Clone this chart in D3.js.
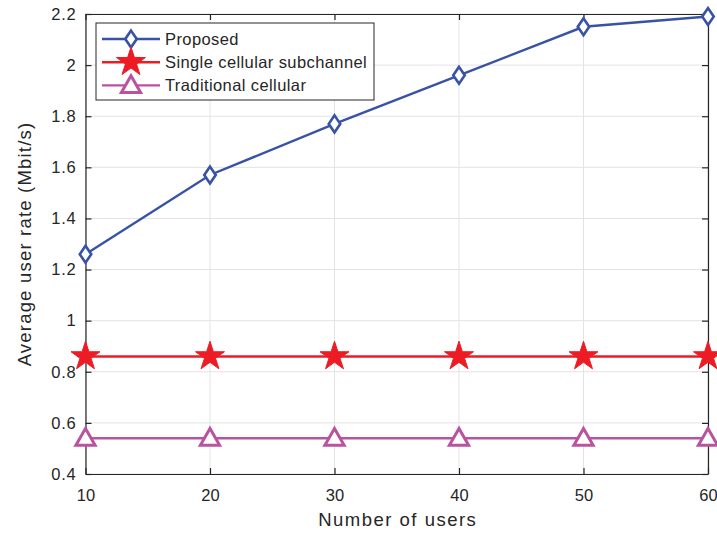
<!DOCTYPE html>
<html>
<head>
<meta charset="utf-8">
<script src="https://cdn.jsdelivr.net/npm/d3@7"></script>
<style>
  body { margin: 0; background: #fff; }
  text { font-family: "Liberation Sans", Arial, sans-serif; fill: #262626; }
</style>
</head>
<body>
<div id="chart"></div>
<script>
// chart data
const users = [10, 20, 30, 40, 50, 60]
const proposed = [1.26, 1.57, 1.77, 1.96, 2.15, 2.19]
const singleSub = [0.86, 0.86, 0.86, 0.86, 0.86, 0.86]
const traditional = [0.54, 0.54, 0.54, 0.54, 0.54, 0.54]
const xTicks = [10, 20, 30, 40, 50, 60]
const yTicks = [0.4, 0.6, 0.8, 1, 1.2, 1.4, 1.6, 1.8, 2, 2.2]
const seriesNames = ['Proposed', 'Single cellular subchannel', 'Traditional cellular']

const width = 717, height = 535
const plotLeft = 85.5, plotRight = 708, plotTop = 14, plotBottom = 474

const svg = d3.select('#chart').append('svg').attr('width', width).attr('height', height)

const x = d3.scaleLinear().domain([10, 60]).range([plotLeft, plotRight])
const y = d3.scaleLinear().domain([0.4, 2.2]).range([plotBottom, plotTop])

// grid
svg.append('g').selectAll('line').data(xTicks).join('line')
    .attr('x1', d => x(d)).attr('x2', d => x(d)).attr('y1', plotTop).attr('y2', plotBottom)
    .style('stroke', '#e3e3e3').style('stroke-width', 1)
svg.append('g').selectAll('line').data(yTicks).join('line')
    .attr('x1', plotLeft).attr('x2', plotRight).attr('y1', d => y(d)).attr('y2', d => y(d))
    .style('stroke', '#e3e3e3').style('stroke-width', 1)

// axes, matlab style inward ticks on all sides
const tickLen = 6
svg.append('g').attr('transform', 'translate(0,' + plotBottom + ')')
    .call(d3.axisBottom(x).tickValues(xTicks).tickSizeInner(-tickLen).tickSizeOuter(0).tickPadding(15))
svg.append('g').attr('transform', 'translate(0,' + plotTop + ')')
    .call(d3.axisTop(x).tickValues(xTicks).tickSizeInner(-tickLen).tickSizeOuter(0).tickFormat(''))
const yAxisG = svg.append('g').attr('transform', 'translate(' + plotLeft + ',0)')
    .call(d3.axisLeft(y).tickValues(yTicks).tickSizeInner(-tickLen).tickSizeOuter(0).tickPadding(9).tickFormat(d3.format('~g')))
svg.append('g').attr('transform', 'translate(' + plotRight + ',0)')
    .call(d3.axisRight(y).tickValues(yTicks).tickSizeInner(-tickLen).tickSizeOuter(0).tickFormat(''))

svg.selectAll('.domain, .tick line').style('stroke', '#262626').style('stroke-width', 1.2)
svg.selectAll('.tick text').attr('font-size', 16.5).style('fill', '#262626')
    .style('font-family', '"Liberation Sans", Arial, sans-serif')
yAxisG.selectAll('.tick text').style('letter-spacing', '0.8px')

// axis labels
svg.append('text').attr('x', (plotLeft + plotRight) / 2 + 1).attr('y', 526).attr('text-anchor', 'middle')
    .attr('font-size', 18.5).style('letter-spacing', '1.5px').text('Number of users')
svg.append('text').attr('transform', 'translate(31,' + ((plotTop + plotBottom) / 2) + ') rotate(-90)')
    .attr('text-anchor', 'middle').attr('font-size', 18.5).style('letter-spacing', '1.2px')
    .text('Average user rate (Mbit/s)')

const colors = ['#3953a4', '#ed1c24', '#b9529f']
const symbols = [
    d3.symbol().type(d3.symbolDiamond2).size(150),
    d3.symbol().type(d3.symbolStar).size(260),
    d3.symbol().type(d3.symbolTriangle).size(160)
]

function drawSeries(values, i) {
    const line = d3.line().x((d, j) => x(users[j])).y(d => y(d))
    svg.append('path').datum(values).attr('d', line)
        .style('fill', 'none').style('stroke', colors[i]).style('stroke-width', 2.4)
    drawMarkers(values.map((v, j) => [x(users[j]), y(v)]), i)
}

function drawMarkers(points, i) {
    const filled = i === 1
    svg.append('g').selectAll('path').data(points).join('path')
        .attr('transform', d => 'translate(' + d[0] + ',' + (d[1] + (i === 2 ? 1.5 : 0)) + ')' + (i === 0 ? ' scale(0.75,1.1)' : ''))
        .attr('d', symbols[i]())
        .style('fill', filled ? colors[i] : 'white')
        .style('stroke', colors[i]).style('stroke-width', filled ? 1 : 3)
}

drawSeries(proposed, 0)
drawSeries(singleSub, 1)
drawSeries(traditional, 2)

// legend
const lg = svg.append('g')
lg.append('rect').attr('x', 96).attr('y', 23).attr('width', 278).attr('height', 77)
    .style('fill', 'white').style('stroke', '#262626').style('stroke-width', 1)
seriesNames.forEach((name, i) => {
    const ly = 39 + i * 23.2
    lg.append('line').attr('x1', 102).attr('x2', 160).attr('y1', ly).attr('y2', ly)
        .style('stroke', colors[i]).style('stroke-width', 2.4)
    drawMarkers([[131, ly]], i)
    lg.append('text').attr('x', 165).attr('y', ly + 6).attr('font-size', 16.5)
        .style('letter-spacing', '0.4px').text(name)
})
</script>
</body>
</html>
